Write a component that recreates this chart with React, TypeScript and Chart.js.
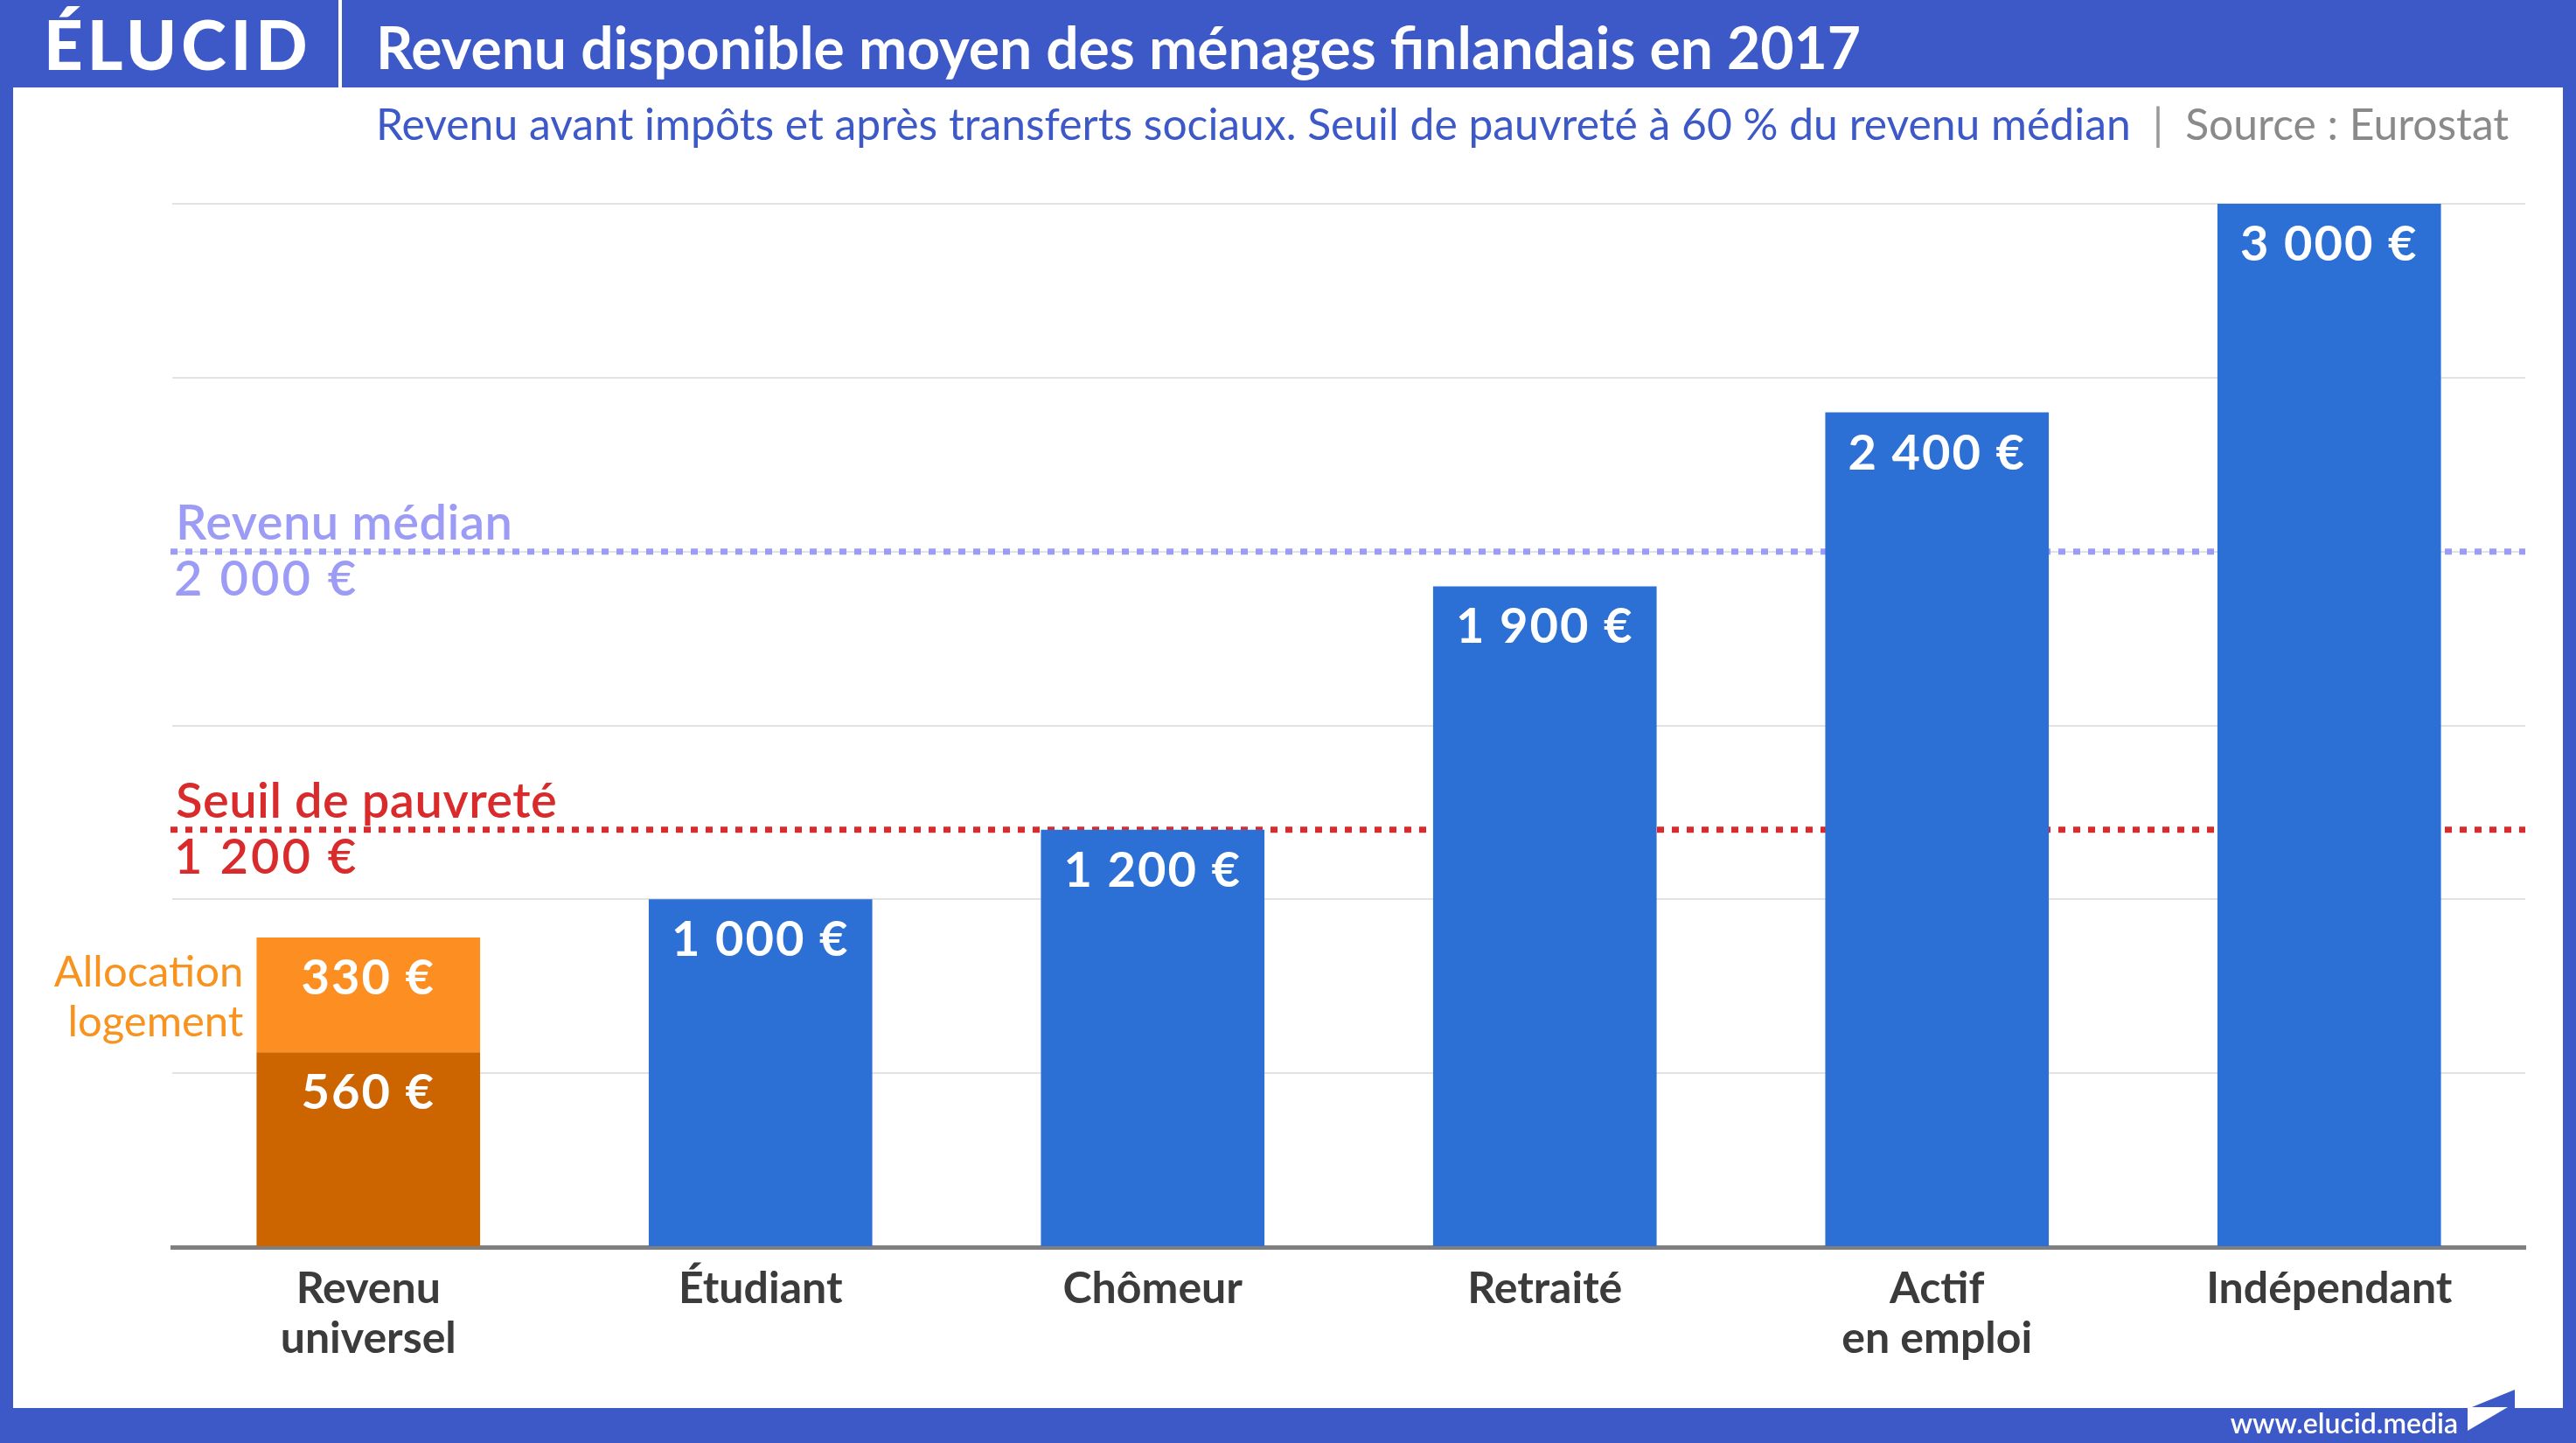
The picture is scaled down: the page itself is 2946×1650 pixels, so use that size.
import React, { useEffect, useRef } from "react";
import { Chart, registerables } from "chart.js";

Chart.register(...registerables);

// ---- data ----
const categories: string[][] = [
  ["Revenu", "universel"],
  ["Étudiant"],
  ["Chômeur"],
  ["Retraité"],
  ["Actif", "en emploi"],
  ["Indépendant"],
];
const incomeValues: number[] = [560, 1000, 1200, 1900, 2400, 3000];
const housingAllowance: (number | null)[] = [330, null, null, null, null, null];
const yTickValues: number[] = [0, 500, 1000, 1500, 2000, 2500, 3000];
const medianIncome = 2000;
const povertyThreshold = 1200;
const medianLabel = "Revenu médian";
const povertyLabel = "Seuil de pauvreté";
const allowanceLabel: string[] = ["Allocation", "logement"];

const titleText = "Revenu disponible moyen des ménages finlandais en 2017";
const subtitleText =
  "Revenu avant impôts et après transferts sociaux. Seuil de pauvreté à 60 % du revenu médian";
const sourceText = "Source : Eurostat";

// ---- styles ----
const FRAME_BLUE = "#3d58c7";
const BAR_BLUE = "#2c6fd5";
const DARK_ORANGE = "#cc6400";
const LIGHT_ORANGE = "#fd8f22";
const MEDIAN_COLOR = "#9c9cf6";
const POVERTY_COLOR = "#d92b2b";
const FONT = "Lato, 'Open Sans', sans-serif";

const fmt = (v: number) =>
  String(v).replace(/\B(?=(\d{3})+(?!\d))/g, " ") + " €";

const overlayPlugin = {
  id: "overlay",
  beforeDatasetsDraw(chart: any) {
    const { ctx, chartArea } = chart;
    const y = chart.scales.y;
    const lines = [
      { v: medianIncome, color: MEDIAN_COLOR, label: medianLabel },
      { v: povertyThreshold, color: POVERTY_COLOR, label: povertyLabel },
    ];
    ctx.save();
    for (const l of lines) {
      const py = y.getPixelForValue(l.v);
      ctx.strokeStyle = l.color;
      ctx.lineWidth = 7;
      ctx.setLineDash([8, 9]);
      ctx.lineCap = "butt";
      ctx.beginPath();
      ctx.moveTo(chartArea.left - 2, py);
      ctx.lineTo(chartArea.right, py);
      ctx.stroke();
      ctx.setLineDash([]);
      ctx.fillStyle = l.color;
      ctx.font = `600 56px ${FONT}`;
      (ctx as any).letterSpacing = "0.5px";
      ctx.textAlign = "left";
      ctx.textBaseline = "alphabetic";
      ctx.fillText(l.label, chartArea.left + 4, py - 14);
      (ctx as any).letterSpacing = "3px";
      ctx.fillText(fmt(l.v), chartArea.left + 2, py + 50);
      (ctx as any).letterSpacing = "0px";
    }
    ctx.restore();
  },
  afterDatasetsDraw(chart: any) {
    const { ctx } = chart;
    ctx.save();
    chart.data.datasets.forEach((ds: any, di: number) => {
      const meta = chart.getDatasetMeta(di);
      meta.data.forEach((el: any, i: number) => {
        const v = ds.data[i];
        if (v == null) return;
        ctx.fillStyle = "#ffffff";
        ctx.font = `bold 56px ${FONT}`;
        (ctx as any).letterSpacing = "2px";
        ctx.textAlign = "center";
        ctx.textBaseline = "alphabetic";
        ctx.fillText(fmt(v), el.x, el.y + 65);
        (ctx as any).letterSpacing = "0px";
        if (di === 1) {
          ctx.fillStyle = "#f7931e";
          ctx.font = `49px ${FONT}`;
          ctx.textAlign = "right";
          const rx = el.x - el.width / 2 - 15;
          allowanceLabel.forEach((t, k) => {
            ctx.fillText(t, rx, el.y + 56 + k * 57);
          });
        }
      });
    });
    ctx.restore();
  },
};

export default function App() {
  const ref = useRef<HTMLCanvasElement>(null);

  useEffect(() => {
    document.body.style.margin = "0";
    const chart = new Chart(ref.current as HTMLCanvasElement, {
      type: "bar",
      data: {
        labels: categories,
        datasets: [
          {
            label: "Revenu",
            data: incomeValues,
            backgroundColor: categories.map((_, i) => (i === 0 ? DARK_ORANGE : BAR_BLUE)),
            categoryPercentage: 0.57,
            barPercentage: 1,
            borderWidth: 0,
          },
          {
            label: "Allocation logement",
            data: housingAllowance,
            backgroundColor: LIGHT_ORANGE,
            categoryPercentage: 0.57,
            barPercentage: 1,
            borderWidth: 0,
          },
        ],
      },
      options: {
        animation: false,
        responsive: false,
        devicePixelRatio: 1,
        layout: { padding: { left: 197, right: 58, top: 233, bottom: 72 } },
        plugins: {
          legend: { display: false },
          tooltip: { enabled: false },
          title: { display: false },
        },
        scales: {
          x: {
            stacked: true,
            grid: { display: false, drawTicks: false },
            border: { display: true, color: "#7f7f7f", width: 5 },
            ticks: {
              color: "#3b3b3b",
              font: { family: FONT, weight: "bold", size: 50, lineHeight: 1.14 },
              padding: 19,
              maxRotation: 0,
              autoSkip: false,
            },
          },
          y: {
            stacked: true,
            min: 0,
            max: 3000,
            afterBuildTicks: (scale: any) => {
              scale.ticks = yTickValues.map((v) => ({ value: v }));
            },
            ticks: { display: false },
            grid: { color: "#e2e2e2", lineWidth: 2, drawTicks: false },
            border: { display: false },
          },
        },
      },
      plugins: [overlayPlugin],
    } as any);
    return () => chart.destroy();
  }, []);

  return (
    <div
      style={{
        position: "fixed",
        left: 0,
        top: 0,
        width: 2946,
        height: 1650,
        background: FRAME_BLUE,
        overflow: "hidden",
        fontFamily: FONT,
      }}
    >
      <div
        style={{
          position: "absolute",
          left: 15,
          top: 100,
          width: 2916,
          height: 1510,
          background: "#ffffff",
        }}
      />
      <div
        style={{
          position: "absolute",
          left: 50,
          top: 0,
          height: 100,
          lineHeight: "100px",
          color: "#fff",
          fontWeight: 900,
          fontSize: 78,
          letterSpacing: 5,
        }}
      >
        ÉLUCID
      </div>
      <div
        style={{
          position: "absolute",
          left: 387,
          top: 0,
          width: 4,
          height: 100,
          background: "#ffffff",
        }}
      />
      <div
        style={{
          position: "absolute",
          left: 430,
          top: 4,
          height: 100,
          lineHeight: "100px",
          color: "#fff",
          fontWeight: 700,
          fontSize: 66,
          whiteSpace: "nowrap",
        }}
      >
        {titleText}
      </div>
      <div
        style={{
          position: "absolute",
          left: 430,
          top: 106,
          height: 70,
          lineHeight: "70px",
          fontSize: 49.8,
          whiteSpace: "nowrap",
        }}
      >
        <span style={{ color: FRAME_BLUE }}>{subtitleText}</span>
        <span style={{ color: "#9a9a9a", padding: "0 25px" }}>|</span>
        <span style={{ color: "#8a8a8a" }}>{sourceText}</span>
      </div>
      <canvas
        ref={ref}
        width={2946}
        height={1650}
        style={{ position: "absolute", left: 0, top: 0, width: 2946, height: 1650 }}
      />
      <div
        style={{
          position: "absolute",
          right: 135,
          top: 1604,
          height: 46,
          lineHeight: "46px",
          color: "#fff",
          fontWeight: 600,
          fontSize: 32,
          whiteSpace: "nowrap",
        }}
      >
        www.elucid.media
      </div>
      <svg
        width={2946}
        height={1650}
        style={{ position: "absolute", left: 0, top: 0, pointerEvents: "none" }}
      >
        <polygon points="2822,1611 2876,1589 2876,1611" fill={FRAME_BLUE} />
        <polygon points="2822,1609 2822,1636 2868,1609" fill="#ffffff" />
      </svg>
    </div>
  );
}
